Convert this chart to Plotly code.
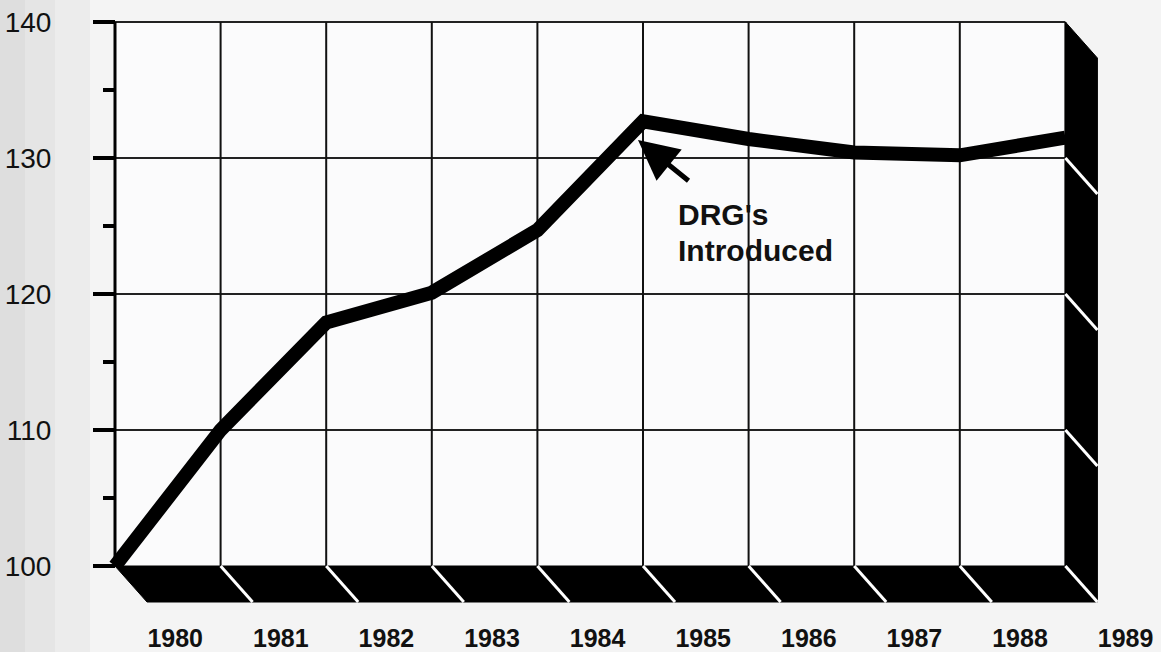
import plotly.graph_objects as go

# ---- data ----
YEARS = [1980, 1981, 1982, 1983, 1984, 1985, 1986, 1987, 1988, 1989]
VALUES = [100, 110, 117.9, 120.1, 124.7, 132.7, 131.4, 130.4, 130.2, 131.5]
Y_TICKS = [100, 110, 120, 130, 140]
Y_MINOR = [105, 115, 125, 135]
X_LABELS = ["1980", "1981", "1982", "1983", "1984", "1985", "1986", "1987", "1988", "1989"]
ANNOT_LINES = ["DRG's", "Introduced"]

# ---- layout geometry ----
W, H = 1161, 652
ML, MR, MT, MB = 100, 10, 10, 40
PW, PH = W - ML - MR, H - MT - MB
PX_YEAR = 105.6
PX_UNIT = 13.6
AXIS_PX = 115          # pixel x of the value axis
TOP_PX = 22            # pixel y of 140
BASE_PX = TOP_PX + (Y_TICKS[-1] - Y_TICKS[0]) * PX_UNIT
X0, X1 = YEARS[0], YEARS[-1]
Y0, Y1 = Y_TICKS[0], Y_TICKS[-1]
xr = [X0 - (AXIS_PX - ML) / PX_YEAR, X0 + (W - MR - AXIS_PX) / PX_YEAR]
yh = Y1 + (TOP_PX - MT) / PX_UNIT
yr = [yh - PH / PX_UNIT, yh]
DX = 32 / PX_YEAR      # 3-D depth offset
DY = 36 / PX_UNIT
LABEL_SHIFT = 0.57


def px_x(px):
    return X0 + (px - AXIS_PX) / PX_YEAR


def px_y(py):
    return Y0 + (BASE_PX - py) / PX_UNIT


FONT = "Liberation Sans, Arial, Helvetica, sans-serif"

fig = go.Figure()

fig.add_trace(go.Scatter(
    x=YEARS, y=VALUES, mode="lines",
    line=dict(color="black", width=14),
    hoverinfo="skip", showlegend=False,
))

shapes = []
# left grey scan strip (soft steps)
for (a, b, c) in [(0, 25, "#dedede"), (25, 55, "#e5e5e5"), (55, 90, "#ececec")]:
    shapes.append(dict(type="rect", xref="paper", yref="paper",
                       x0=(a - ML) / PW, x1=(b - ML) / PW, y0=-MB / PH, y1=1 + MT / PH,
                       fillcolor=c, line=dict(width=0), layer="below"))
# panel
shapes.append(dict(type="rect", xref="x", yref="y", x0=X0, x1=X1, y0=Y0, y1=Y1,
                   fillcolor="#fbfbfc", line=dict(width=0), layer="below"))
# horizontal grid
for v in Y_TICKS[1:]:
    shapes.append(dict(type="line", xref="x", yref="y", x0=X0, x1=X1, y0=v, y1=v,
                       line=dict(color="#222222", width=2), layer="below"))
# vertical grid
for yr_ in YEARS[1:]:
    shapes.append(dict(type="line", xref="x", yref="y", x0=yr_, x1=yr_, y0=Y0, y1=Y1,
                       line=dict(color="#111111", width=2), layer="below"))
# floor
shapes.append(dict(type="path", xref="x", yref="y",
                   path=f"M {X0},{Y0} L {X1},{Y0} L {X1+DX},{Y0-DY} L {X0+DX},{Y0-DY} Z",
                   fillcolor="black", line=dict(color="black", width=1), layer="below"))
# side wall
shapes.append(dict(type="path", xref="x", yref="y",
                   path=f"M {X1},{Y1} L {X1+DX},{Y1-DY} L {X1+DX},{Y0-DY} L {X1},{Y0} Z",
                   fillcolor="black", line=dict(color="black", width=1), layer="below"))
# white diagonals on floor
for yr_ in YEARS[1:]:
    shapes.append(dict(type="line", xref="x", yref="y", x0=yr_, x1=yr_ + DX, y0=Y0, y1=Y0 - DY,
                       line=dict(color="white", width=3), layer="below"))
# white diagonals on wall
for v in Y_TICKS[1:-1]:
    shapes.append(dict(type="line", xref="x", yref="y", x0=X1, x1=X1 + DX, y0=v, y1=v - DY,
                       line=dict(color="white", width=3), layer="below"))
# value axis line
shapes.append(dict(type="line", xref="x", yref="y", x0=X0, x1=X0, y0=Y0, y1=Y1,
                   line=dict(color="black", width=3), layer="below"))

annotations = [
    dict(x=px_x(638), y=px_y(140), xref="x", yref="y", text="", showarrow=True,
         ax=52, ay=42, arrowhead=2, arrowsize=1.6, arrowwidth=5, arrowcolor="black"),
    dict(x=px_x(677), y=px_y(231.5), xref="x", yref="y", text=ANNOT_LINES[0],
         showarrow=False, xanchor="left", yanchor="bottom", borderpad=0,
         font=dict(family=FONT, size=30, color="#111", weight="bold")),
    dict(x=px_x(677), y=px_y(232.5), xref="x", yref="y", text=ANNOT_LINES[1],
         showarrow=False, xanchor="left", yanchor="top", borderpad=0,
         font=dict(family=FONT, size=30, color="#111", weight="bold")),
]

fig.update_layout(
    width=W, height=H,
    margin=dict(l=ML, r=MR, t=MT, b=MB),
    paper_bgcolor="#f4f4f4", plot_bgcolor="#f4f4f4",
    shapes=shapes, annotations=annotations, showlegend=False,
    xaxis=dict(range=xr, showgrid=False, zeroline=False, showline=False,
               tickmode="array", tickvals=[y + LABEL_SHIFT for y in YEARS], ticktext=X_LABELS,
               ticks="", ticklabelstandoff=9,
               tickfont=dict(family=FONT, size=25, color="#111", weight="bold"),
               automargin=False, fixedrange=True),
    yaxis=dict(range=yr, showgrid=False, zeroline=False, showline=False,
               anchor="free", position=(AXIS_PX - ML) / PW,
               tickmode="array", tickvals=Y_TICKS,
               ticks="outside", ticklen=22, tickwidth=4, tickcolor="black",
               minor=dict(tickvals=Y_MINOR, ticks="outside", ticklen=12, tickwidth=4,
                          tickcolor="black", showgrid=False),
               ticklabelstandoff=36,
               tickfont=dict(family=FONT, size=28, color="#111"),
               automargin=False, fixedrange=True),
)

fig.write_html("out.html")
